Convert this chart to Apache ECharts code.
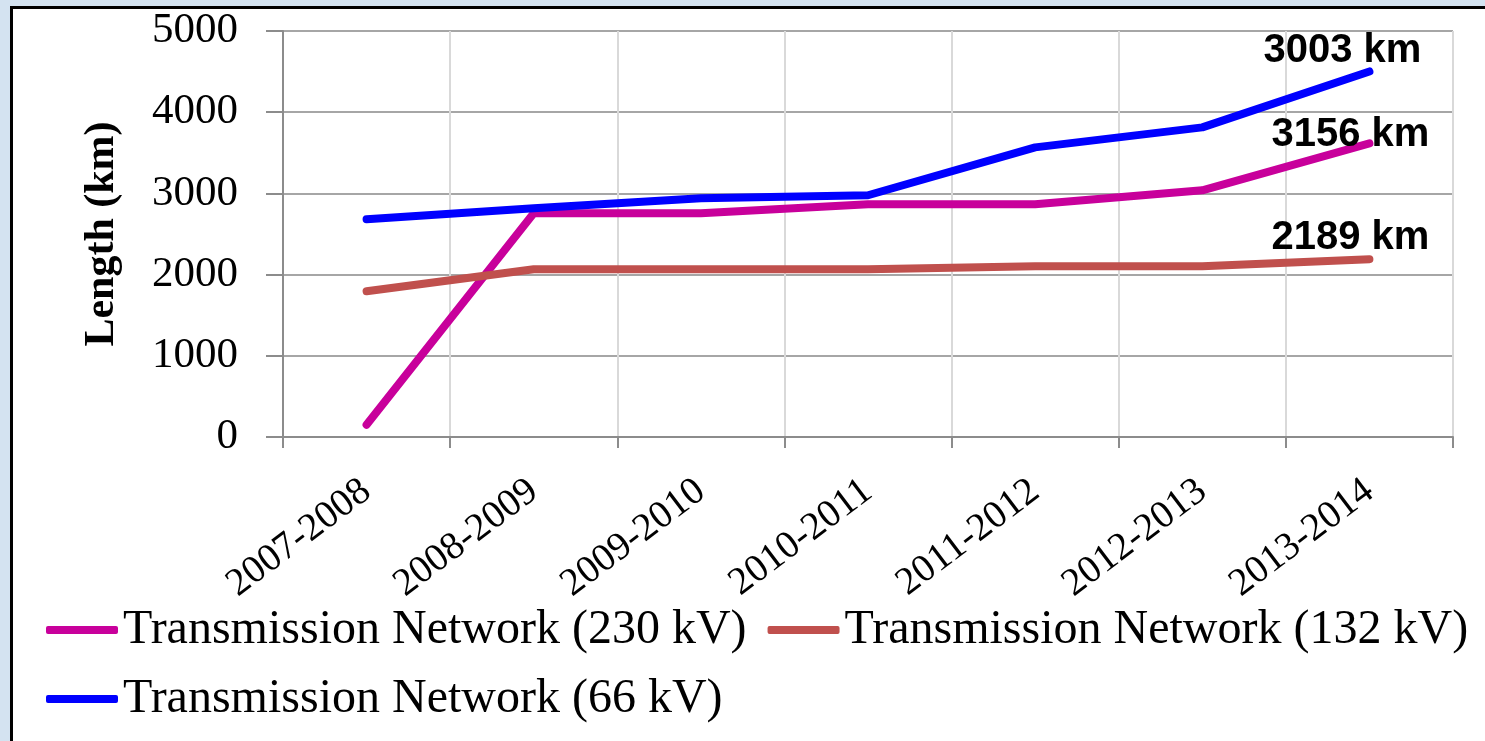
<!DOCTYPE html>
<html>
<head>
<meta charset="utf-8">
<script src="https://cdn.jsdelivr.net/npm/echarts@6/dist/echarts.min.js"></script>
<style>
  html, body { margin: 0; padding: 0; background: #d4e3f1; overflow: hidden; }
  #frame { position: absolute; left: 10px; top: 6px; width: 1500px; height: 760px;
           background: #fff; border-left: 3px solid #000; border-top: 3px solid #000; }
  #main { position: absolute; left: 0; top: 0; width: 1485px; height: 741px; }
</style>
</head>
<body>
<div id="frame"></div>
<div id="main"></div>
<script>
var years = ['2007-2008', '2008-2009', '2009-2010', '2010-2011', '2011-2012', '2012-2013', '2013-2014'];
var seriesNames = ['Transmission Network (230 kV)', 'Transmission Network (132 kV)', 'Transmission Network (66 kV)'];
var kv230 = [150, 2755, 2755, 2866, 2866, 3038, 3616];
var kv132 = [1796, 2066, 2066, 2066, 2103, 2103, 2189];
var kv66 = [2681, 2817, 2940, 2977, 3567, 3813, 4502];
var endNotes = ['3156 km', '2189 km', '3003 km'];
var colors = ['#c8009b', '#c0504d', '#0000ff'];

// where each end note sits relative to the last point of its line
var noteOffsets = [[-19, -8], [-19, -21], [-27, -20]];

function makeSeries(i, values) {
  return {
    type: 'line',
    name: seriesNames[i],
    data: values,
    symbol: 'none',
    color: colors[i],
    lineStyle: { width: 8, color: colors[i], cap: 'round', join: 'round' },
    endLabel: {
      show: true,
      formatter: endNotes[i],
      distance: 0,
      align: 'center',
      verticalAlign: 'middle',
      offset: noteOffsets[i],
      fontFamily: 'Liberation Sans',
      fontWeight: 'bold',
      fontSize: 40,
      color: '#000'
    }
  };
}

var chart = echarts.init(document.getElementById('main'));
chart.setOption({
  backgroundColor: 'transparent',
  animation: false,
  grid: { left: 283, right: 32, top: 31, bottom: 304, containLabel: false },
  legend: {
    left: 46,
    top: 606,
    width: 1440,
    padding: 0,
    orient: 'horizontal',
    icon: 'roundRect',
    itemWidth: 72,
    itemHeight: 8,
    itemGap: 21,
    data: seriesNames,
    textStyle: { fontFamily: 'Liberation Serif', fontSize: 48, color: '#000', lineHeight: 40 }
  },
  xAxis: {
    type: 'category',
    data: years,
    boundaryGap: true,
    axisLine: { lineStyle: { color: '#8c8c8c', width: 2 } },
    axisTick: { show: true, length: 11, lineStyle: { color: '#8c8c8c', width: 2 } },
    splitLine: { show: true, lineStyle: { color: '#d9d9d9', width: 2 } },
    axisLabel: {
      rotate: 37,
      margin: 50,
      fontFamily: 'Liberation Serif',
      fontSize: 39,
      color: '#000'
    }
  },
  yAxis: {
    type: 'value',
    min: 0,
    max: 5000,
    interval: 1000,
    name: 'Length (km)',
    nameLocation: 'middle',
    nameGap: 160,
    nameTextStyle: { fontFamily: 'Liberation Serif', fontWeight: 'bold', fontSize: 42, color: '#000' },
    axisLine: { show: true, lineStyle: { color: '#8c8c8c', width: 2 } },
    axisTick: { show: true, length: 17, lineStyle: { color: '#8c8c8c', width: 2 } },
    splitLine: { show: true, lineStyle: { color: '#a6a6a6', width: 2 } },
    axisLabel: {
      margin: 45,
      fontFamily: 'Liberation Serif',
      fontSize: 43,
      color: '#000',
      formatter: function(v) { return String(v); }
    }
  },
  series: [
    makeSeries(0, kv230),
    makeSeries(1, kv132),
    makeSeries(2, kv66)
  ]
});
</script>
</body>
</html>
